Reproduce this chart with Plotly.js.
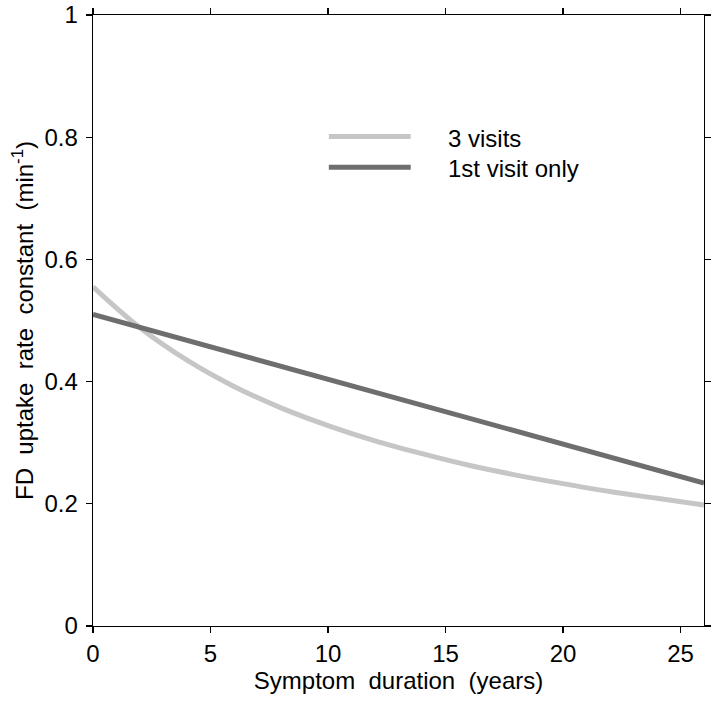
<!DOCTYPE html>
<html>
<head>
<meta charset="utf-8">
<script src="https://cdn.plot.ly/plotly-3.0.1.min.js"></script>
<style>html,body{margin:0;padding:0;background:#fff;}#chart{width:717px;height:701px;}</style>
</head>
<body>
<div id="chart"></div>
<script>
// Data
const yearsThreeVisits = [0, 2, 4, 6, 8, 10, 12, 14, 16, 18, 20, 22, 24, 26];
const rateThreeVisits = [0.555, 0.488, 0.435, 0.392, 0.357, 0.328, 0.303, 0.282, 0.263, 0.247, 0.233, 0.220, 0.209, 0.198];
const yearsFirstVisit = [0, 26];
const rateFirstVisit = [0.51, 0.234];
const seriesNames = ["3 visits", "1st visit only"];
const xTicks = [0, 5, 10, 15, 20, 25];
const yTicks = [0, 0.2, 0.4, 0.6, 0.8, 1];
const yTickLabels = ["0", "0.2", "0.4", "0.6", "0.8", "1"];

const lightGray = "#c6c6c6";
const darkGray = "#6e6e6e";
const FONT = "Liberation Sans, Arial, sans-serif";
const FS = 24;
const sp = "\u00a0 ";

const traces = [
  {x: yearsThreeVisits, y: rateThreeVisits, name: seriesNames[0], mode: "lines",
   line: {color: lightGray, width: 5, shape: "spline", smoothing: 1}, showlegend: false, hoverinfo: "skip"},
  {x: yearsFirstVisit, y: rateFirstVisit, name: seriesNames[1], mode: "lines",
   line: {color: darkGray, width: 5}, showlegend: false, hoverinfo: "skip"}
];

const axisCommon = {
  showgrid: false, zeroline: false, showline: true, linecolor: "#000", linewidth: 1.3,
  mirror: "ticks", ticks: "outside", ticklen: 6, tickwidth: 1.3, tickcolor: "#000",
  tickfont: {family: FONT, size: FS, color: "#000"}
};

const layout = {
  width: 717, height: 701,
  margin: {l: 93, r: 13, t: 15, b: 75, pad: 0},
  paper_bgcolor: "#fff", plot_bgcolor: "#fff",
  font: {family: FONT, size: FS, color: "#000"},
  xaxis: Object.assign({}, axisCommon, {
    range: [0, 26], tickvals: xTicks, ticklabelstandoff: 0,
    title: {text: "Symptom" + sp + "duration" + sp + "(years)", font: {family: FONT, size: FS, color: "#000"}, standoff: 0}
  }),
  yaxis: Object.assign({}, axisCommon, {
    range: [0, 1], tickvals: yTicks, ticktext: yTickLabels, ticklabelstandoff: 3,
    title: {text: "FD" + sp + "uptake" + sp + "rate" + sp + "constant" + sp + "(min<sup>-1</sup>)", font: {family: FONT, size: FS, color: "#000"}, standoff: 4}
  }),
  shapes: [
    {type: "line", xref: "paper", yref: "paper", x0: 0.386, x1: 0.520, y0: 0.801, y1: 0.801, line: {color: lightGray, width: 5}},
    {type: "line", xref: "paper", yref: "paper", x0: 0.386, x1: 0.520, y0: 0.751, y1: 0.751, line: {color: darkGray, width: 5}}
  ],
  annotations: [
    {xref: "paper", yref: "paper", x: 0.578, y: 0.798, xanchor: "left", yanchor: "middle", text: seriesNames[0], showarrow: false, font: {family: FONT, size: FS, color: "#000"}},
    {xref: "paper", yref: "paper", x: 0.578, y: 0.748, xanchor: "left", yanchor: "middle", text: seriesNames[1], showarrow: false, font: {family: FONT, size: FS, color: "#000"}}
  ]
};

Plotly.newPlot("chart", traces, layout, {displayModeBar: false, staticPlot: true});
</script>
</body>
</html>
